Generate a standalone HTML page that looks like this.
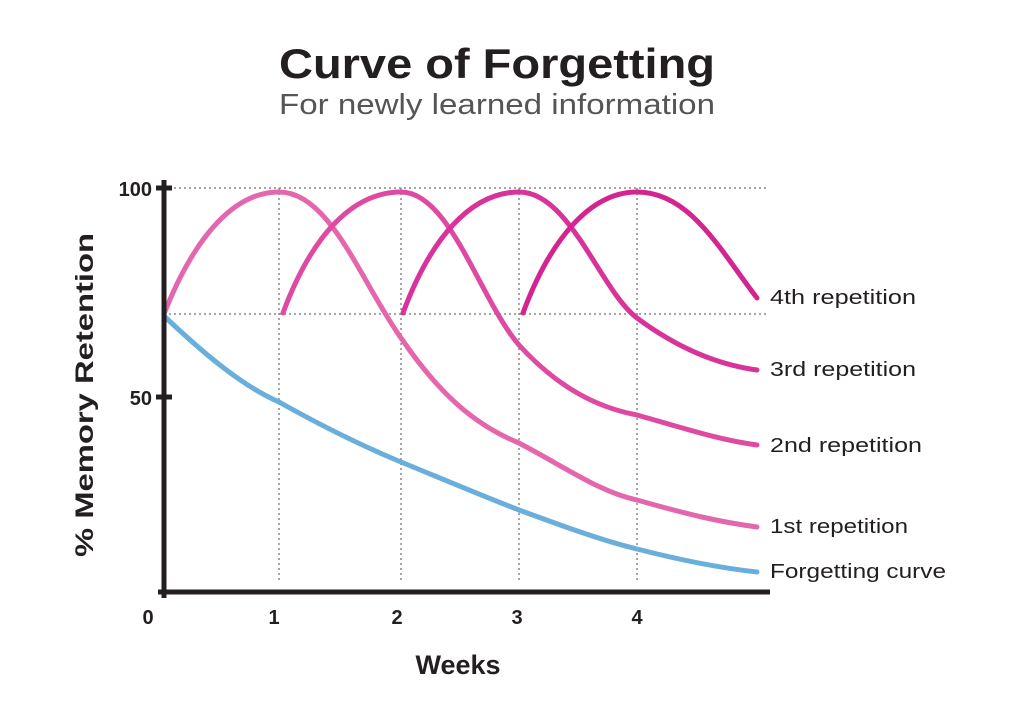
<!DOCTYPE html>
<html><head><meta charset="utf-8"><style>
html,body{margin:0;padding:0;background:#fff}
svg{display:block}
text{font-family:"Liberation Sans",sans-serif}
</style></head><body>
<svg width="1024" height="717" viewBox="0 0 1024 717">
<text x="497" y="78" text-anchor="middle" font-size="42" font-weight="bold" fill="#231f20" textLength="436" lengthAdjust="spacingAndGlyphs">Curve of Forgetting</text>
<text x="497" y="114" text-anchor="middle" font-size="29" fill="#555" textLength="436" lengthAdjust="spacingAndGlyphs">For newly learned information</text>
<g stroke="#888" stroke-width="1.5" stroke-dasharray="2,3" fill="none">
<line x1="164" y1="188" x2="768" y2="188"/>
<line x1="164" y1="314" x2="768" y2="314"/>
<line x1="279" y1="188" x2="279" y2="582"/>
<line x1="401" y1="188" x2="401" y2="582"/>
<line x1="519" y1="188" x2="519" y2="582"/>
<line x1="637" y1="188" x2="637" y2="582"/>
</g>
<g fill="none" stroke-width="5" stroke-linecap="round">
<path stroke="#6aaedb" d="M164,316 C200,350 240,385 279,402 C320,425 360,445 401,462 C440,478 480,495 519,510 C560,525 600,540 637,549 C680,560 720,568 757,572"/>
<path stroke="#e466ac" d="M164,314 C195,235 235,192 279,192 C330,192 360,280 401,338 C440,395 475,425 519,443 C570,470 600,492 637,500 C690,515 720,522 757,527"/>
<path stroke="#de4aa2" d="M283,313 C310,240 350,192 401,192 C450,192 480,300 519,345 C560,390 600,408 637,415 C690,430 720,440 757,445"/>
<path stroke="#d8339a" d="M403,313 C430,240 470,192 519,192 C570,192 600,290 637,318 C680,350 720,365 757,370"/>
<path stroke="#d42490" d="M523,313 C550,240 590,192 637,192 C690,192 720,250 757,298"/>
</g>
<g stroke="#231f20" stroke-width="5">
<line x1="164" y1="180" x2="164" y2="598"/>
<line x1="158" y1="592" x2="770" y2="592"/>
<line x1="156" y1="188" x2="172" y2="188"/>
<line x1="156" y1="397" x2="172" y2="397"/>
</g>
<g font-size="20" font-weight="bold" fill="#231f20">
<text x="152" y="196" text-anchor="end">100</text>
<text x="152" y="405" text-anchor="end">50</text>
<text x="148" y="624" text-anchor="middle">0</text>
<text x="274" y="624" text-anchor="middle">1</text>
<text x="397" y="624" text-anchor="middle">2</text>
<text x="517" y="624" text-anchor="middle">3</text>
<text x="637" y="624" text-anchor="middle">4</text>
</g>
<text x="458" y="674" text-anchor="middle" font-size="27" font-weight="bold" fill="#231f20">Weeks</text>
<text transform="translate(93,395) rotate(-90)" text-anchor="middle" font-size="25" font-weight="bold" fill="#231f20" textLength="324" lengthAdjust="spacingAndGlyphs">% Memory Retention</text>
<g font-size="20" fill="#231f20">
<text x="770" y="304" textLength="146" lengthAdjust="spacingAndGlyphs">4th repetition</text>
<text x="770" y="376" textLength="146" lengthAdjust="spacingAndGlyphs">3rd repetition</text>
<text x="770" y="452" textLength="152" lengthAdjust="spacingAndGlyphs">2nd repetition</text>
<text x="770" y="533" textLength="138" lengthAdjust="spacingAndGlyphs">1st repetition</text>
<text x="770" y="578" textLength="176" lengthAdjust="spacingAndGlyphs">Forgetting curve</text>
</g>
</svg>
</body></html>
